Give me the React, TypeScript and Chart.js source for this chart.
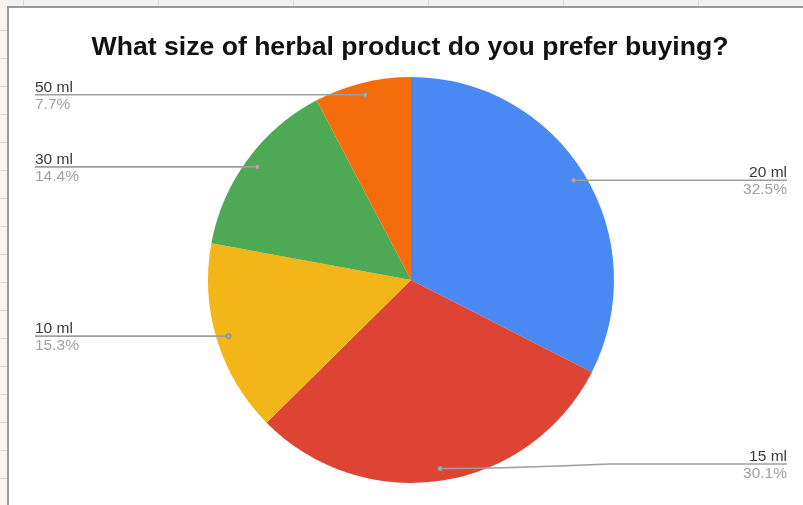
import React, { useEffect, useRef } from "react";
import { Chart, registerables } from "chart.js";

Chart.register(...registerables);

const TITLE = "What size of herbal product do you prefer buying?";
const categories = ["20 ml", "15 ml", "10 ml", "30 ml", "50 ml"];
const shares = [32.5, 30.1, 15.3, 14.4, 7.7];
const colors = ["#4a89f3", "#dd4434", "#f3b619", "#4ea955", "#f46c0b"];

const W = 803;
const H = 505;

const framePlugin = {
  id: "frame",
  beforeDraw(chart: any) {
    const ctx = chart.ctx;
    ctx.save();
    ctx.fillStyle = "#f1f1f1";
    ctx.fillRect(0, 0, W, 8);
    ctx.fillStyle = "#f6f4ec";
    ctx.fillRect(0, 0, 8, H);
    ctx.strokeStyle = "#dcdcdc";
    ctx.lineWidth = 1;
    for (let x = 23; x < W; x += 135) {
      ctx.beginPath();
      ctx.moveTo(x + 0.5, 0);
      ctx.lineTo(x + 0.5, 7);
      ctx.stroke();
    }
    for (let y = 30; y < H; y += 28) {
      ctx.beginPath();
      ctx.moveTo(0, y + 0.5);
      ctx.lineTo(7, y + 0.5);
      ctx.stroke();
    }
    ctx.fillStyle = "#ffffff";
    ctx.fillRect(9, 8, W - 9, H - 8);
    ctx.strokeStyle = "#9a9a9a";
    ctx.lineWidth = 2;
    ctx.beginPath();
    ctx.moveTo(8, H);
    ctx.lineTo(8, 7);
    ctx.lineTo(W, 7);
    ctx.stroke();
    ctx.fillStyle = "#111111";
    ctx.font = "bold 26.6px 'Liberation Sans', Arial, sans-serif";
    ctx.textAlign = "center";
    ctx.textBaseline = "alphabetic";
    ctx.fillText(TITLE, 410, 55);
    ctx.restore();
  },
};

const labelPlugin = {
  id: "leaderLabels",
  afterDatasetsDraw(chart: any) {
    const ctx = chart.ctx;
    const meta = chart.getDatasetMeta(0);
    const data = chart.data.datasets[0].data as number[];
    const total = data.reduce((a, b) => a + b, 0);
    ctx.save();
    meta.data.forEach((arc: any, i: number) => {
      const { x, y, startAngle, endAngle, outerRadius } = arc.getProps(
        ["x", "y", "startAngle", "endAngle", "outerRadius"],
        true
      );
      const mid = (startAngle + endAngle) / 2;
      const rr = outerRadius * 0.94;
      const px = x + Math.cos(mid) * rr;
      const py = y + Math.sin(mid) * rr;
      const right = px > x;
      const endX = right ? 787 : 35;
      const labelY = Math.min(Math.max(py, 94), H - 41);
      ctx.strokeStyle = "#9e9e9e";
      ctx.lineWidth = 1.6;
      ctx.beginPath();
      ctx.moveTo(px, py);
      if (Math.abs(labelY - py) > 0.5) {
        const bx = px + (right ? 170 : -170);
        ctx.quadraticCurveTo(px + (right ? 60 : -60), py, bx, labelY);
      }
      ctx.lineTo(endX, labelY);
      ctx.stroke();
      ctx.fillStyle = "#a8a8a8";
      ctx.strokeStyle = "#888888";
      ctx.lineWidth = 1;
      ctx.beginPath();
      ctx.arc(px, py, 2.5, 0, Math.PI * 2);
      ctx.fill();
      ctx.stroke();

      ctx.textAlign = right ? "right" : "left";
      ctx.font = "15.5px 'Liberation Sans', Arial, sans-serif";
      ctx.fillStyle = "#3a3a3a";
      ctx.textBaseline = "alphabetic";
      ctx.fillText(chart.data.labels[i], endX, labelY - 3);
      ctx.fillStyle = "#a0a0a0";
      ctx.fillText(((data[i] / total) * 100).toFixed(1) + "%", endX, labelY + 14);
    });
    ctx.restore();
  },
};

export default function App() {
  const ref = useRef<HTMLCanvasElement>(null);
  useEffect(() => {
    if (!ref.current) return;
    const chart = new Chart(ref.current, {
      type: "pie",
      data: {
        labels: categories,
        datasets: [
          {
            data: shares,
            backgroundColor: colors,
            borderWidth: 0,
          },
        ],
      },
      options: {
        animation: false,
        responsive: false,
        devicePixelRatio: 1,
        layout: { padding: { left: 208, right: 189, top: 77, bottom: 22 } },
        plugins: {
          legend: { display: false },
          title: { display: false },
          tooltip: { enabled: false },
        },
      },
      plugins: [framePlugin, labelPlugin],
    });
    return () => chart.destroy();
  }, []);
  return (
    <div style={{ position: "fixed", left: 0, top: 0, width: W, height: H }}>
      <canvas ref={ref} width={W} height={H} style={{ display: "block", width: W, height: H }} />
    </div>
  );
}
